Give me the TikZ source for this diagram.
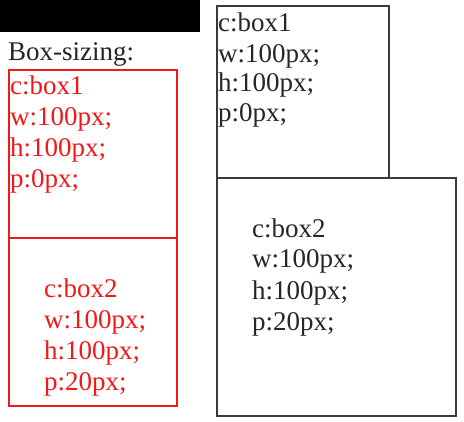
\documentclass[tikz,border=0pt]{standalone}
\usepackage{fontspec}
\setmainfont{Liberation Serif}
\definecolor{boxred}{HTML}{F01818}
\definecolor{boxgray}{HTML}{3A3A3A}
\begin{document}
\begin{tikzpicture}[x=1pt,y=-1pt,
  txt/.style={anchor=base west,inner sep=0pt,font=\fontsize{27}{31}\selectfont},
  redtxt/.style={txt,text=boxred},
  blktxt/.style={txt,text=black!85},
  redbox/.style={draw=boxred,line width=1.5pt},
  blkbox/.style={draw=boxgray,line width=1.6pt}]
\useasboundingbox (0,0) rectangle (464,422);
\fill[black] (0,0) rectangle (200,32);
\node[txt,text=black!85] (title) at (8,61) {Box-sizing:};
% red stacked boxes
\draw[redbox] (9,70) rectangle (177,238);
\draw[redbox] (9,238) rectangle (177,406);
\node[redtxt] (r1a) at (10,95) {c:box1};
\node[redtxt] (r1b) at (10,126) {w:100px;};
\node[redtxt] (r1c) at (10,157) {h:100px;};
\node[redtxt] (r1d) at (10,188) {p:0px;};
\node[redtxt] (r2a) at (44,298) {c:box2};
\node[redtxt] (r2b) at (44,329) {w:100px;};
\node[redtxt] (r2c) at (44,360) {h:100px;};
\node[redtxt] (r2d) at (44,391) {p:20px;};
% black boxes
\draw[blkbox] (217,6) rectangle (389,178);
\draw[blkbox] (217,178) rectangle (456,416);
\node[blktxt] (b1a) at (218,32) {c:box1};
\node[blktxt] (b1b) at (218,63) {w:100px;};
\node[blktxt] (b1c) at (218,92) {h:100px;};
\node[blktxt] (b1d) at (218,122) {p:0px;};
\node[blktxt] (b2a) at (252,238) {c:box2};
\node[blktxt] (b2b) at (252,268) {w:100px;};
\node[blktxt] (b2c) at (252,300) {h:100px;};
\node[blktxt] (b2d) at (252,331) {p:20px;};
\end{tikzpicture}
\end{document}
